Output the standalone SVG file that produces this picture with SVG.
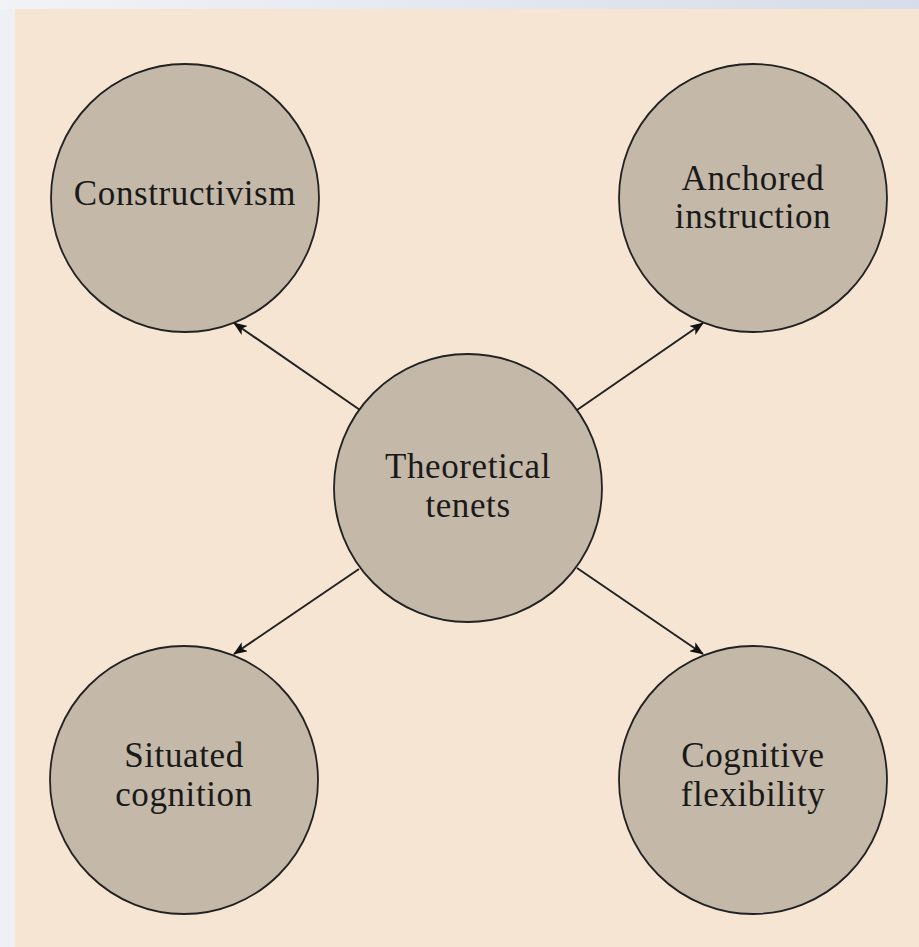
<svg xmlns="http://www.w3.org/2000/svg" width="919" height="947" viewBox="0 0 919 947">
<style>
.node circle{fill:#c4b8a8;stroke:#222;stroke-width:1.8}
.node text{font-family:"Liberation Serif","DejaVu Serif",serif;font-size:35px;letter-spacing:0.6px;fill:#1a1a1a;text-anchor:middle}
.edge{stroke:#222;stroke-width:2;fill:none;marker-end:url(#ah)}
</style>
<defs>
<linearGradient id="topg" x1="0" y1="0" x2="1" y2="0">
<stop offset="0" stop-color="#f2f3f6"/><stop offset="1" stop-color="#d6dce9"/>
</linearGradient>
<marker id="ah" viewBox="0 0 14 11" refX="13" refY="5.5" markerWidth="14" markerHeight="11" markerUnits="userSpaceOnUse" orient="auto">
<path d="M0,0 L14,5.5 L0,11 L3.5,5.5 Z" fill="#111"/>
</marker>
</defs>
<rect x="0" y="0" width="919" height="947" fill="#eef0f4"/>
<rect x="0" y="0" width="919" height="9" fill="url(#topg)"/>
<rect x="15" y="9" width="904" height="938" fill="#f6e5d3"/>
<g id="connectors">
<line class="edge" x1="360" y1="410" x2="234" y2="323"/>
<line class="edge" x1="577" y1="410" x2="703" y2="323"/>
<line class="edge" x1="359" y1="569" x2="234" y2="654"/>
<line class="edge" x1="577" y1="568" x2="703" y2="654"/>
</g>
<g id="constructivism" class="node">
<circle cx="185" cy="198" r="134"/>
<text x="185" y="205">Constructivism</text>
</g>
<g id="anchored" class="node">
<circle cx="753" cy="198" r="134"/>
<text x="753" y="190">Anchored</text>
<text x="753" y="228">instruction</text>
</g>
<g id="theoretical" class="node">
<circle cx="468" cy="488" r="134"/>
<text x="468" y="478">Theoretical</text>
<text x="468" y="517">tenets</text>
</g>
<g id="situated" class="node">
<circle cx="184" cy="780" r="134"/>
<text x="184" y="767">Situated</text>
<text x="184" y="806">cognition</text>
</g>
<g id="cognitive" class="node">
<circle cx="753" cy="780" r="134"/>
<text x="753" y="767">Cognitive</text>
<text x="753" y="806">flexibility</text>
</g>
</svg>
